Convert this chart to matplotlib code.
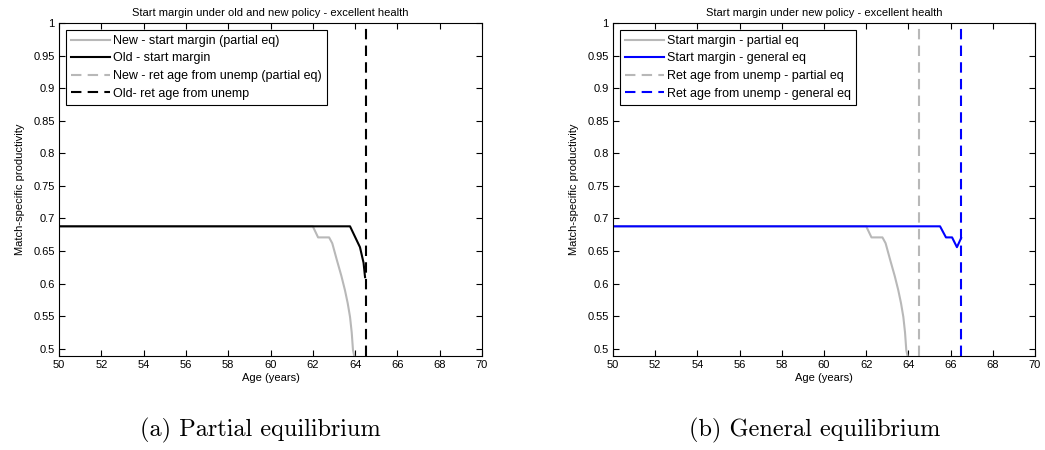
import numpy as np
import matplotlib
matplotlib.use('Agg')
import matplotlib.pyplot as plt

plt.rcParams['font.family'] = ['Liberation Sans', 'DejaVu Sans']

# start margin, new policy, partial equilibrium (same in both panels)
new_pe_age = [50, 62.0, 62.25, 62.77, 62.92, 63.14, 63.35, 63.52, 63.65,
              63.76, 63.84, 63.9, 63.96]
new_pe_val = [0.688, 0.688, 0.671, 0.671, 0.662, 0.636, 0.612, 0.59, 0.57,
              0.549, 0.525, 0.498, 0.489]

# start margin, old policy
old_age = [50, 63.76, 64.23, 64.4, 64.47]
old_val = [0.688, 0.688, 0.656, 0.632, 0.61]

# start margin, new policy, general equilibrium
new_ge_age = [50, 65.5, 65.78, 66.07, 66.3, 66.5]
new_ge_val = [0.688, 0.688, 0.671, 0.671, 0.656, 0.67]

# retirement age from unemployment
ret_old = 64.5
ret_new_pe = 64.5
ret_new_ge = 66.5

GRAY = (0.72, 0.72, 0.72)

fig = plt.figure(figsize=(10.45, 4.5), dpi=100)
W, H = 1045.0, 450.0
ax1 = fig.add_axes([59 / W, (H - 356) / H, 423 / W, 333 / H])
ax2 = fig.add_axes([613 / W, (H - 356) / H, 422 / W, 333 / H])


def style(ax, title):
    ax.set_xlim(50, 70)
    ax.set_ylim(0.489, 1.0)
    ax.set_xticks(np.arange(50, 71, 2))
    yt = np.round(np.arange(0.5, 1.0001, 0.05), 2)
    ax.set_yticks(yt)
    ax.set_yticklabels(['%g' % v for v in yt])
    ax.tick_params(direction='in', top=True, right=True, labelsize=8,
                   length=4, width=0.8, pad=3)
    for s in ax.spines.values():
        s.set_linewidth(0.8)
    ax.set_title(title, fontsize=8, pad=5)
    ax.set_xlabel('Age (years)', fontsize=8, labelpad=2)
    ax.set_ylabel('Match-specific productivity', fontsize=8, labelpad=6)


dash = (0, (5, 3))

# panel (a)
ax1.plot(new_pe_age, new_pe_val, color=GRAY, lw=1.5,
         label='New - start margin (partial eq)')
ax1.plot(old_age, old_val, color='black', lw=1.5, label='Old - start margin')
ax1.plot([], [], color=GRAY, lw=1.5, linestyle=dash,
         label='New - ret age from unemp (partial eq)')
ax1.axvline(ret_old, color='black', lw=1.5, linestyle=dash,
            label='Old- ret age from unemp')
style(ax1, 'Start margin under old and new policy - excellent health')

# panel (b)
ax2.plot(new_pe_age, new_pe_val, color=GRAY, lw=1.5,
         label='Start margin - partial eq')
ax2.plot(new_ge_age, new_ge_val, color='blue', lw=1.5,
         label='Start margin - general eq')
ax2.axvline(ret_new_pe, color=GRAY, lw=1.5, linestyle=dash,
            label='Ret age from unemp - partial eq')
ax2.axvline(ret_new_ge, color='blue', lw=1.5, linestyle=dash,
            label='Ret age from unemp - general eq')
style(ax2, 'Start margin under new policy - excellent health')

for ax in (ax1, ax2):
    leg = ax.legend(loc='upper left', fontsize=9, frameon=True, fancybox=False,
                    framealpha=1, edgecolor='black', handlelength=3.1,
                    handletextpad=0.3, borderpad=0.4, labelspacing=0.45,
                    borderaxespad=0.55)
    leg.get_frame().set_linewidth(0.8)

fig.text(260 / W, 1 - 430 / H, '(a) Partial equilibrium', family='cmr10',
         fontsize=17.5, ha='center', va='center')
fig.text(815 / W, 1 - 430 / H, '(b) General equilibrium', family='cmr10',
         fontsize=17.5, ha='center', va='center')

fig.savefig('out.png', dpi=100)
